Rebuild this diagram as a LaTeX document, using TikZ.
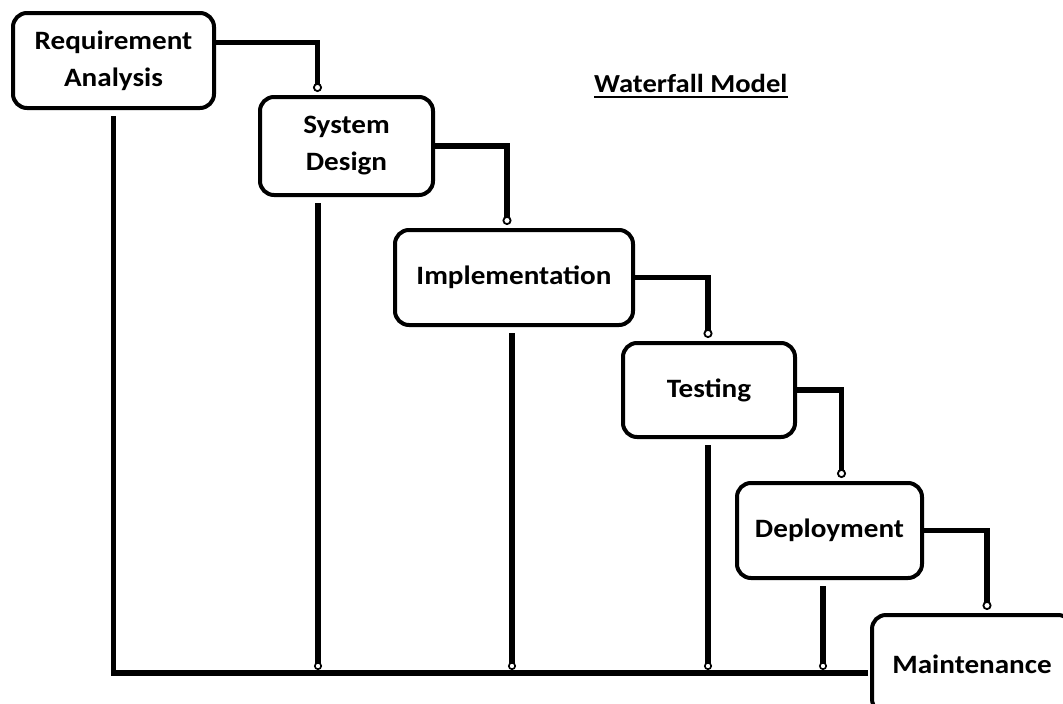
\documentclass[tikz,border=0pt]{standalone}
\usepackage{fontspec}
\setmainfont{Carlito}[FakeStretch=1.1]
\usetikzlibrary{arrows.meta}
\begin{document}
\begin{tikzpicture}[x=1pt,y=-1pt,
  box/.style={draw,line width=4pt,rounded corners=14pt,align=center,inner sep=0pt,
    font=\bfseries\fontsize{26.5}{37}\selectfont},
  flow/.style={line width=5.5pt,
    -{Circle[open,fill=white,length=9pt,width=9pt,line width=1.8pt]},shorten >=3pt},
  back/.style={line width=5.5pt,
    -{Circle[open,fill=white,length=8pt,width=8pt,line width=1.6pt]},shorten <=6pt},
  base/.style={line width=5.5pt,line join=miter}]
\clip (0,0) rectangle (1063,704);
\fill[white] (0,0) rectangle (1063,704);
% boxes
\node[box,minimum width=201pt,minimum height=95pt] (b1) at (113.5,60.5) {Requirement\\Analysis};
\node[box,minimum width=173pt,minimum height=98pt] (b2) at (346.5,146) {System\\Design};
\node[box,minimum width=238pt,minimum height=95pt] (b3) at (514,277.5) {Implementation};
\node[box,minimum width=172pt,minimum height=94pt] (b4) at (709,390) {Testing};
\node[box,minimum width=185pt,minimum height=95pt] (b5) at (829.5,530.5) {Deployment};
\node[box,minimum width=200pt,minimum height=98pt] (b6) at (972,664) {Maintenance};
% title
\node[anchor=base west,inner sep=0pt,font=\bfseries\fontsize{26}{30}\selectfont] (title) at (594,92) {Waterfall Model};
\draw[line width=2.2pt] ([yshift=-5pt]title.base west) -- ([yshift=-5pt]title.base east);
% cascade connectors
\draw[flow] ([yshift=18pt]b1.east) -| ([xshift=-29pt]b2.north);
\draw[flow] (b2.east) -| ([xshift=-7pt]b3.north);
\draw[flow] (b3.east) -| ([xshift=-1pt]b4.north);
\draw[flow] (b4.east) -| ([xshift=12pt]b5.north);
\draw[flow] (b5.east) -| ([xshift=15pt]b6.north);
% baseline
\coordinate (basey) at (0,673);
\draw[base,shorten <=6pt,shorten >=2pt] (b1.south) -- (b1.south |- basey) -- ([yshift=-9pt]b6.west);
% feedback lines
\draw[back] ([xshift=-28.5pt]b2.south) -- ([xshift=-28.5pt,yshift=3pt]b2.south |- basey);
\draw[back] ([xshift=-2pt]b3.south) -- ([xshift=-2pt,yshift=3pt]b3.south |- basey);
\draw[back] ([xshift=-1pt]b4.south) -- ([xshift=-1pt,yshift=3pt]b4.south |- basey);
\draw[back] ([xshift=-6.5pt]b5.south) -- ([xshift=-6.5pt,yshift=3pt]b5.south |- basey);
\end{tikzpicture}
\end{document}
